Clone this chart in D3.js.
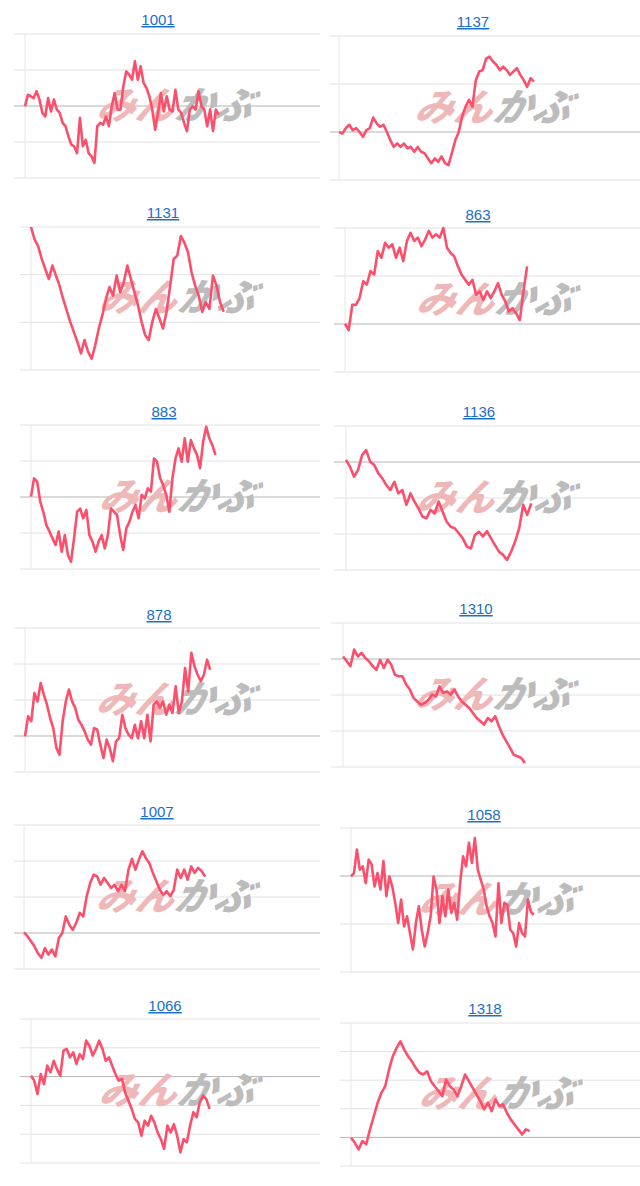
<!DOCTYPE html>
<html><head><meta charset="utf-8">
<script src="https://cdn.jsdelivr.net/npm/d3@7"></script>
<style>body{margin:0;background:#fff;}svg{display:block;}</style>
</head><body>
<svg id="c" width="640" height="1186"></svg>
<script>
// Tickers (titles)
const tickers = ["1001","1137","1131","863","883","1136","878","1310","1007","1058","1066","1318"];
// number of gridline intervals per chart
const gridIntervals = [4,3,3,3,4,4,4,4,4,3,5,5];
// previous-close baseline gridline index (null = not shown)
const baselineIdx = [2,1,null,1,2,3,1,3,1,2,3,1];
// session progress (share of the day elapsed)
const sessionShare = [0.66,0.65,0.67,0.62,0.64,0.63,0.63,0.61,0.61,0.63,0.62,0.62];

// intraday values (in gridline units)
const s1001 = [1.99,2.31,2.27,2.22,2.41,2.18,1.81,1.71,2.22,1.85,2.18,1.90,1.81,1.53,1.44,1.16,0.93,0.88,0.69,1.67,0.88,1.06,0.69,0.60,0.42,1.44,1.53,1.48,1.71,1.44,1.99,2.36,1.90,1.90,2.55,2.96,2.87,2.73,3.24,2.73,3.10,2.64,2.50,2.27,1.90,1.34,1.81,2.36,1.85,2.27,1.90,1.85,2.45,1.90,1.81,1.53,1.30,1.90,1.99,1.90,2.41,1.99,1.90,1.44,1.90,1.30,1.90,1.76];
const s1137 = [1.0,0.97,1.08,1.15,1.04,1.08,1.0,0.9,1.04,1.08,1.3,1.18,1.11,1.15,1.0,0.83,0.69,0.76,0.69,0.76,0.66,0.69,0.59,0.69,0.59,0.56,0.45,0.35,0.45,0.38,0.49,0.35,0.31,0.56,0.83,1.0,1.32,1.53,1.67,1.53,2.08,2.26,2.29,2.53,2.57,2.47,2.4,2.29,2.36,2.29,2.19,2.26,2.33,2.19,2.08,1.94,2.12,2.05];
const s1131 = [3.0,2.74,2.6,2.33,2.12,1.91,2.19,1.98,1.77,1.49,1.25,1.01,0.8,0.59,0.35,0.63,0.38,0.24,0.52,0.87,1.15,1.49,1.74,1.56,1.98,1.63,1.84,2.19,1.91,1.63,1.35,1.01,0.73,0.63,1.01,1.28,1.08,0.87,1.22,1.77,2.33,2.4,2.81,2.67,2.47,2.05,1.77,1.56,1.22,1.42,1.28,1.98,1.77,1.42,1.22];
const s863 = [1.01,0.87,1.4,1.4,1.54,1.89,1.82,2.1,2.03,2.52,2.38,2.69,2.59,2.66,2.38,2.59,2.31,2.73,2.9,2.73,2.8,2.62,2.76,2.94,2.8,2.87,2.8,3.0,2.59,2.48,2.41,2.2,2.03,1.92,1.82,1.92,1.61,1.68,1.5,1.68,1.54,1.68,1.85,1.61,1.47,1.26,1.33,1.22,1.08,1.68,2.2];
const s883 = [2.01,2.52,2.43,1.87,1.59,1.22,1.04,0.85,0.67,1.04,0.48,0.94,0.39,0.2,0.85,1.59,1.68,1.41,1.64,0.94,0.76,0.48,0.76,0.94,0.57,0.94,1.68,1.59,1.5,0.94,0.53,1.13,1.31,1.59,1.78,1.41,2.06,1.96,2.24,2.15,3.07,2.98,2.52,2.33,2.06,1.59,2.52,3.07,3.35,2.98,3.63,2.98,3.58,3.35,3.17,2.8,3.54,3.95,3.63,3.44,3.17];
const s1136 = [3.06,2.87,2.59,2.78,3.19,3.33,3.01,2.92,2.69,2.55,2.36,2.22,2.45,2.13,2.22,1.81,2.13,1.9,1.71,1.48,1.44,1.67,1.57,1.9,1.62,1.34,1.2,1.16,1.02,0.88,0.65,0.6,0.97,1.06,0.93,1.08,0.88,0.69,0.51,0.42,0.28,0.51,0.79,1.16,1.81,1.53,1.85];
const s878 = [0.99,1.55,1.41,2.19,1.96,2.47,2.15,1.87,1.5,1.22,0.67,0.48,1.41,1.96,2.29,1.96,1.78,1.45,1.31,1.13,0.9,0.76,1.22,1.18,0.76,0.39,0.9,0.67,0.3,0.85,0.94,1.59,1.22,1.04,0.94,1.31,0.94,1.41,0.94,1.59,0.85,1.87,1.96,1.78,1.96,1.59,1.87,1.64,2.38,1.64,1.96,2.89,2.24,3.31,2.94,2.7,2.52,2.7,3.12,2.84];
const s1310 = [3.07,2.94,2.8,3.26,3.07,3.17,3.03,2.94,2.8,2.7,2.98,2.75,2.98,2.84,2.56,2.52,2.52,2.29,2.15,1.92,1.82,1.73,1.78,1.87,2.01,1.96,2.24,2.06,2.1,2.01,2.15,1.96,1.82,1.73,1.64,1.5,1.36,1.27,1.18,1.36,1.27,1.41,1.13,0.9,0.71,0.53,0.34,0.3,0.25,0.11];
const s1007 = [1.02,0.91,0.77,0.63,0.44,0.31,0.58,0.4,0.54,0.35,0.86,1.0,1.46,1.23,1.09,1.28,1.56,1.46,2.02,2.39,2.62,2.57,2.34,2.53,2.39,2.25,2.34,2.16,2.34,2.16,2.76,3.06,2.76,3.04,3.27,3.08,2.94,2.67,2.44,2.2,2.06,2.16,2.02,2.2,2.76,2.53,2.76,2.48,2.85,2.67,2.81,2.72,2.57];
const s1058 = [1.99,2.06,2.55,2.13,2.2,1.85,2.34,2.24,1.78,2.06,1.72,2.31,1.58,1.99,1.78,1.44,1.02,1.51,0.95,1.16,0.81,0.47,1.02,1.37,0.88,0.53,0.81,1.16,1.99,1.72,1.02,1.58,1.16,1.72,1.23,1.44,1.09,1.85,2.41,2.2,2.69,2.27,2.79,2.13,1.92,1.72,1.37,1.16,1.02,0.74,1.85,1.02,1.44,1.4,0.88,0.81,0.53,1.02,0.81,0.74,1.51,1.26,1.19];
const s1066 = [3.03,2.86,2.4,3.09,2.74,3.38,3.15,3.55,3.26,3.03,3.9,3.96,3.67,3.84,3.44,3.78,3.61,4.25,4.07,3.73,3.96,4.25,3.96,3.55,3.67,3.38,3.09,2.86,2.92,2.45,2.16,1.88,1.53,1.41,0.95,1.47,1.3,1.64,1.41,1.06,0.83,0.49,1.3,1.06,1.35,0.95,0.37,0.83,0.72,1.3,1.76,1.59,2.11,2.34,2.22,1.88];
const s1318 = [0.99,0.81,0.58,0.87,0.76,1.28,1.74,2.21,2.56,2.79,3.37,3.84,4.13,4.36,4.07,3.84,3.66,3.43,3.26,3.2,3.31,2.97,2.79,2.62,2.44,3.02,2.79,2.67,2.44,2.79,3.2,2.97,2.73,2.5,2.27,1.98,2.21,1.92,2.33,2.09,2.15,1.86,1.63,1.45,1.28,1.1,1.28,1.22];
const seriesList = [s1001,s1137,s1131,s863,s883,s1136,s878,s1310,s1007,s1058,s1066,s1318];

// layout per panel: [gridLeft, axisX, gridRight, top, bottom, titleY, titleX]
const layout = [
 [14,25,320,34,178,20,158],[330,339,640,36,180,22,473],
 [20,31,320,227,370,213,163],[334,345,640,228,372,215,478],
 [20,31,320,425,569,412,164],[334,346,640,426,570,412,479],
 [14,25,320,628,772,615,159],[331,343,640,623,767,609,476],
 [14,24,320,825,969,812,157],[340,351,640,828,972,815,484],
 [20,31,320,1019,1163,1006,165],[340,351,640,1023,1166,1009,485]
];

const svg = d3.select("#c");
tickers.forEach((t,i)=>{
  const [gl,ax,gr,top,bot,ty,tx] = layout[i];
  const data = seriesList[i];
  const n = gridIntervals[i];
  const slots = Math.round((data.length-1)/sessionShare[i]);
  const x = d3.scaleLinear().domain([0,slots]).range([ax,gr]);
  const y = d3.scaleLinear().domain([0,n]).range([bot,top]);
  const g = svg.append("g");
  g.selectAll("line.grid").data(d3.range(n+1)).join("line")
    .attr("x1",gl).attr("x2",gr).attr("y1",d=>y(d)).attr("y2",d=>y(d))
    .attr("stroke",d=>d===baselineIdx[i]?"#b4b4b4":"#e2e2e2").attr("stroke-width",1);
  g.append("line").attr("x1",ax).attr("x2",ax).attr("y1",top).attr("y2",bot)
    .attr("stroke","#e6e6e6");
  const cx = gl+(gr-gl)*0.53, cy=(top+bot)/2;
  const wm = g.append("text").attr("x",cx).attr("y",cy+13).attr("text-anchor","middle")
    .attr("font-family","Noto Sans CJK JP").attr("font-weight",900).attr("font-size",38)
    .attr("letter-spacing",1)
    .attr("font-style","italic").attr("transform",`skewX(-12) translate(${cy*0.212},0)`);
  wm.append("tspan").attr("fill","#efb8b8").text("みん");
  wm.append("tspan").attr("fill","#bcbcbc").text("かぶ");
  g.append("path").datum(data)
    .attr("d",d3.line().x((d,k)=>x(k)).y(d=>y(d)))
    .attr("fill","none").attr("stroke","#fb4f6c").attr("stroke-width",2.6)
    .attr("stroke-linejoin","round");
  g.append("text").attr("x",tx).attr("y",ty+5).attr("text-anchor","middle")
    .attr("font-family","Liberation Sans, Arial").attr("font-size",15)
    .attr("fill","#1a6fc9").attr("text-decoration","underline").text(t);
});
</script>
</body></html>
